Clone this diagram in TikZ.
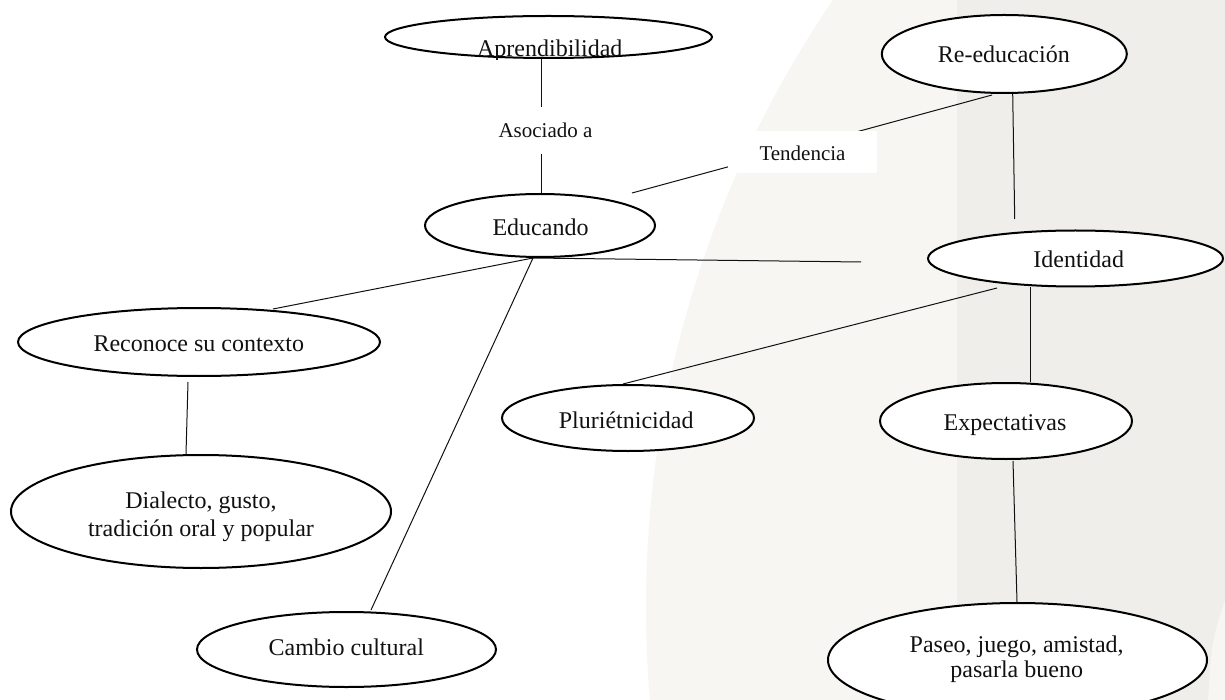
\documentclass[tikz,border=0pt]{standalone}
\usepackage{fontspec}
\setmainfont{Liberation Serif}
\usetikzlibrary{shapes.geometric,calc}
\definecolor{bgA}{HTML}{F7F6F3}
\definecolor{bgB}{HTML}{F0EEEA}
\definecolor{ink}{HTML}{111111}
\pgfdeclarelayer{back}
\pgfdeclarelayer{wires}
\pgfsetlayers{back,wires,main}
\begin{document}
\begin{tikzpicture}[x=1pt,y=-1pt,
  oval/.style={ellipse, draw=black, line width=2pt, fill=white, inner sep=0pt},
  txt/.style={anchor=base, inner sep=0pt, text=ink, font=\fontsize{24}{26}\selectfont},
  lbl/.style={fill=white, inner sep=0pt, text=ink, font=\fontsize{21}{23}\selectfont, text depth=0pt},
  conn/.style={line width=1pt, draw=ink}]
\useasboundingbox (0,0) rectangle (1225,700);
\clip (0,0) rectangle (1225,700);
% background
\begin{pgfonlayer}{back}
  \fill[white] (0,0) rectangle (1225,700);
  \fill[bgA] (1724,607) circle[radius=1078];
  \fill[bgB] (957,0) rectangle (1225,700);
  \fill[bgA] (1225,600) .. controls (1212,640) .. (1208,700) -- (1225,700) -- cycle;
\end{pgfonlayer}

% ellipses
\node[oval, minimum width=327pt, minimum height=42pt] (apr) at (548.5,37) {};
\node[oval, minimum width=245pt, minimum height=78pt] (reed) at (1004.3,54) {};
\node[oval, minimum width=230pt, minimum height=63pt] (edu) at (540,225.5) {};
\node[oval, minimum width=295pt, minimum height=56pt] (iden) at (1075.5,258.5) {};
\node[oval, minimum width=362pt, minimum height=68pt] (recon) at (199,342) {};
\node[oval, minimum width=252pt, minimum height=66pt] (pluri) at (628,418) {};
\node[oval, minimum width=252pt, minimum height=76pt] (exp) at (1006,421) {};
\node[oval, minimum width=380pt, minimum height=113pt] (dial) at (201,511.5) {};
\node[oval, minimum width=299pt, minimum height=75pt] (cambio) at (346.5,649.5) {};
\node[oval, minimum width=379pt, minimum height=114pt] (paseo) at (1017.5,660) {};

% connectors
\begin{pgfonlayer}{wires}
  \draw[conn] ($(apr.center)+(-6.8,22.5)$) -- ($(edu.center)+(1.7,-32)$);
  \draw[conn] ($(reed.center)+(-12.3,41)$) -- ($(edu.center)+(92,-32.5)$);
  \draw[conn] ($(reed.center)+(8.4,40)$) -- ($(iden.center)+(-60.8,-39.5)$);
  \draw[conn] ($(edu.center)+(-7,32.5)$) -- ($(iden.center)+(-214.5,3.5)$);
  \draw[conn] ($(edu.center)+(-7,32.5)$) -- ($(recon.center)+(74,-33)$);
  \draw[conn] ($(edu.center)+(-7,32.5)$) -- ($(cambio.center)+(24.5,-39.5)$);
  \draw[conn] ($(recon.center)+(-11,40)$) -- ($(dial.center)+(-15,-57.5)$);
  \draw[conn] ($(iden.center)+(-78.5,29.5)$) -- ($(pluri.center)+(-5,-34)$);
  \draw[conn] ($(iden.center)+(-45.5,28.5)$) -- ($(exp.center)+(24,-39)$);
  \draw[conn] ($(exp.center)+(7,40)$) -- ($(paseo.center)+(-0.5,-58)$);
\end{pgfonlayer}

% connector labels
\node[lbl, minimum width=96pt, minimum height=47pt, text height=13.6pt] (asoc) at (545.5,130.5) {Asociado a};
\node[lbl, minimum width=149pt, minimum height=42pt, text height=17.4pt] (tend) at (802.5,152) {Tendencia};

% texts
\begin{scope}
  \clip (380,0) rectangle (720,59.3);
  \node[txt] (aprT) at (549.8,57) {Aprendibilidad};
\end{scope}
\node[txt] (reedT) at (1003.8,62.7) {Re-educación};
\node[txt] (eduT) at (540.5,235.3) {Educando};
\node[txt] (idenT) at (1078.7,267.7) {Identidad};
\node[txt] (reconT) at (198.8,351.7) {Reconoce su contexto};
\node[txt] (pluriT) at (626.2,428.3) {Pluriétnicidad};
\node[txt] (expT) at (1005,430) {Expectativas};
\node[txt, font=\fontsize{24}{27.7}\selectfont] (dialT) at (201,508.3)
  {\vtop{\halign{\hfil#\hfil\cr Dialecto, gusto,\cr tradición oral y popular\cr}}};
\node[txt] (cambioT) at (346.3,655.7) {Cambio cultural};
\begin{scope}
  \clip (820,600) rectangle (1215,682);
  \node[txt, font=\fontsize{24}{25}\selectfont] (paseoT) at (1016.7,652.7)
    {\vtop{\halign{\hfil#\hfil\cr Paseo, juego, amistad,\cr pasarla bueno\cr}}};
\end{scope}
\end{tikzpicture}
\end{document}
